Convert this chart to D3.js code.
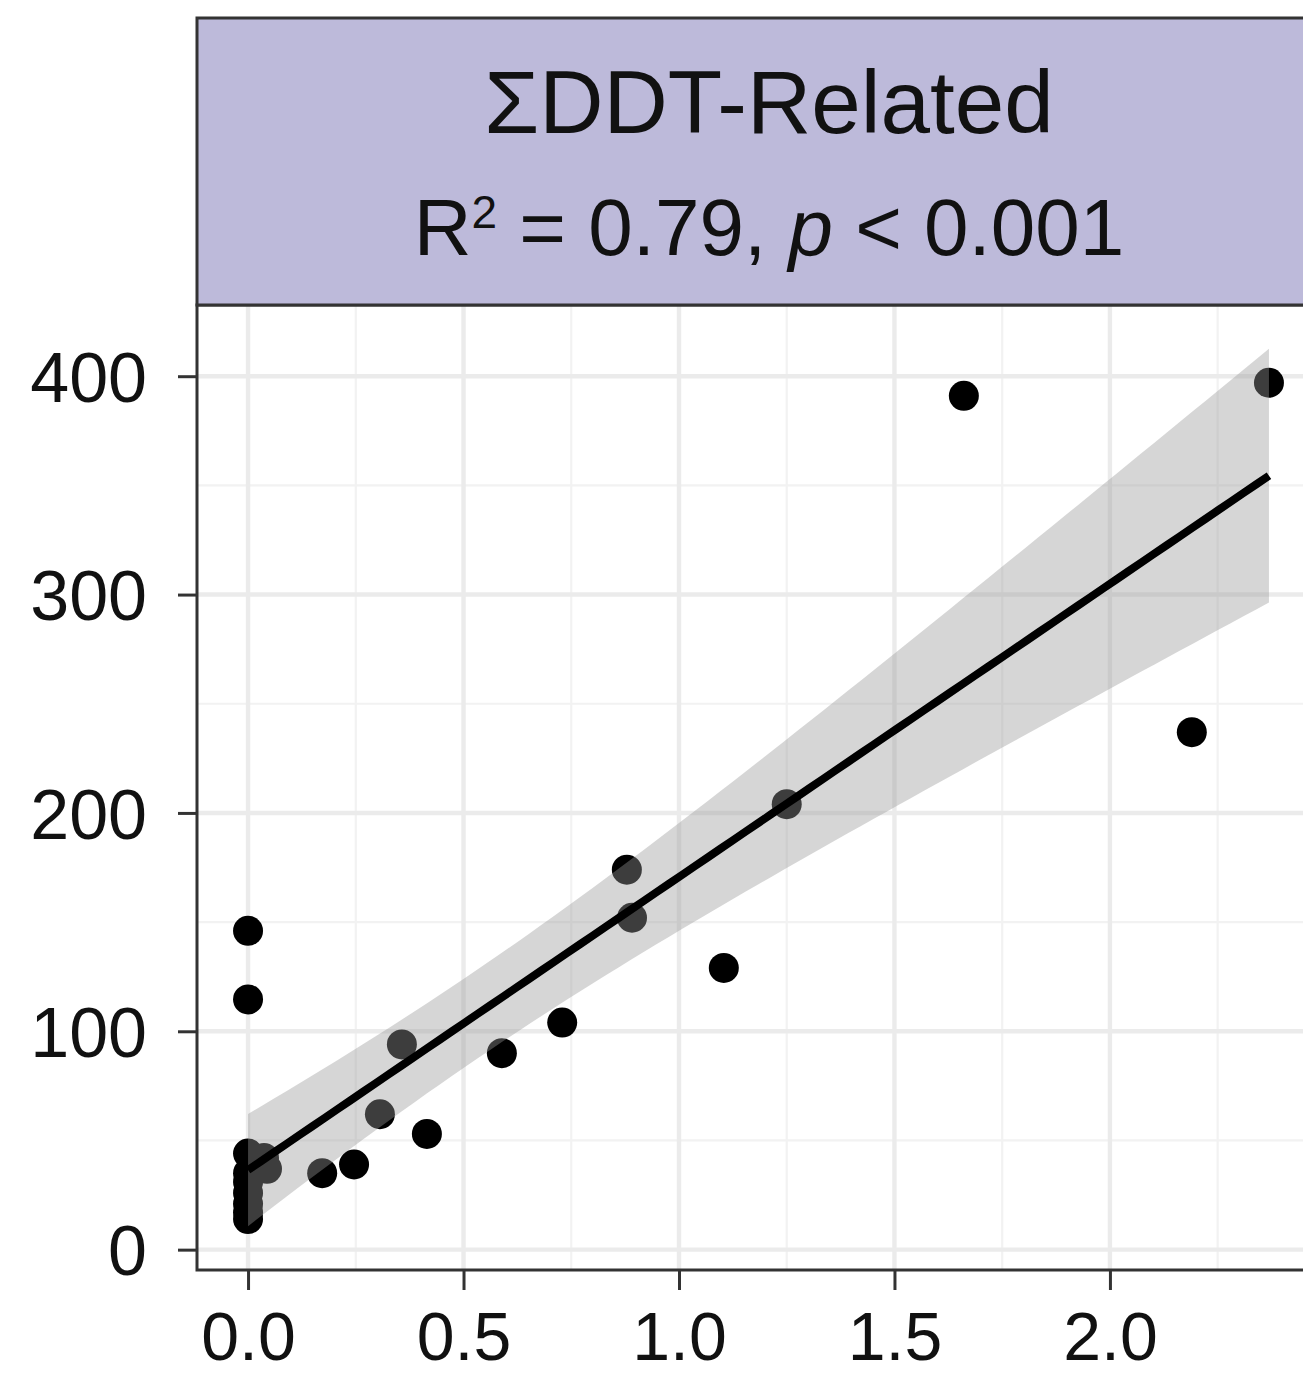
<!DOCTYPE html>
<html>
<head>
<meta charset="utf-8">
<script src="https://cdn.jsdelivr.net/npm/d3@7"></script>
<style>
  html, body { margin: 0; padding: 0; background: #fff; }
  svg { display: block; }
  text { font-family: "Liberation Sans", Arial, sans-serif; }
</style>
</head>
<body>
<svg id="chart" width="1303" height="1379"></svg>
<script>
// ---- data ----
const xValues = [0, 0, 0, 0.037, 0.044, 0, 0, 0, 0, 0, 0,
                 0.172, 0.246, 0.306, 0.357, 0.415, 0.589, 0.729,
                 0.879, 0.891, 1.104, 1.25, 1.661, 2.19, 2.369];
const yValues = [146, 114.6, 44, 42, 37, 35, 31, 26, 21, 17, 14,
                 35, 39, 62, 94, 53, 90, 104,
                 174, 152, 129, 204, 391, 237, 397];
const xTicks = [0.0, 0.5, 1.0, 1.5, 2.0];
const xTickLabels = ["0.0", "0.5", "1.0", "1.5", "2.0"];
const yTicks = [0, 100, 200, 300, 400];
const yTickLabels = ["0", "100", "200", "300", "400"];
const stripTitle = "ΣDDT-Related";
const statR2 = "0.79";
const statP = "0.001";

// ---- linear fit + 95% CI (as geom_smooth(method = "lm")) ----
const n = xValues.length;
const mx = d3.mean(xValues), my = d3.mean(yValues);
let sxx = 0, sxy = 0;
for (let i = 0; i < n; i++) { sxx += (xValues[i]-mx)**2; sxy += (xValues[i]-mx)*(yValues[i]-my); }
const slope = sxy / sxx, intercept = my - slope * mx;
let sse = 0;
for (let i = 0; i < n; i++) sse += (yValues[i] - (intercept + slope*xValues[i]))**2;
const s = Math.sqrt(sse / (n - 2));
const tcrit = 2.0687; // t(0.975, df = 23)
const xMin = d3.min(xValues), xMax = d3.max(xValues);
const fitPts = d3.range(0, 81).map(i => {
  const x = xMin + (xMax - xMin) * i / 80;
  const yh = intercept + slope * x;
  const se = s * Math.sqrt(1/n + (x-mx)**2 / sxx);
  return {x, y: yh, lo: yh - tcrit*se, hi: yh + tcrit*se};
});

// ---- layout ----
const svg = d3.select("#chart");
const panel = {left: 197, right: 1320, top: 305, bottom: 1270};
const strip = {top: 18, bottom: 305};

const xr = xMax - xMin;
const x = d3.scaleLinear().domain([xMin - 0.05*xr, xMax + 0.05*xr]).range([panel.left, panel.right]);
const yLo = Math.min(d3.min(yValues), d3.min(fitPts, d => d.lo));
const yHi = Math.max(d3.max(yValues), d3.max(fitPts, d => d.hi));
const yr = yHi - yLo;
const y = d3.scaleLinear().domain([yLo - 0.05*yr, yHi + 0.05*yr]).range([panel.bottom, panel.top]);

// panel background
svg.append("rect").attr("x", panel.left).attr("y", panel.top)
  .attr("width", panel.right - panel.left).attr("height", panel.bottom - panel.top)
  .attr("fill", "#fff");

// grid: minor then major
const xMinor = d3.range(-0.25, 2.75, 0.5);
const yMinor = d3.range(-50, 500, 100);
const gGrid = svg.append("g");
gGrid.selectAll("line.xm").data(xMinor.filter(v => x(v) > panel.left && x(v) < panel.right)).join("line")
  .attr("x1", d => x(d)).attr("x2", d => x(d)).attr("y1", panel.top).attr("y2", panel.bottom)
  .attr("stroke", "#f2f2f2").attr("stroke-width", 2.2);
gGrid.selectAll("line.ym").data(yMinor.filter(v => y(v) > panel.top && y(v) < panel.bottom)).join("line")
  .attr("y1", d => y(d)).attr("y2", d => y(d)).attr("x1", panel.left).attr("x2", panel.right)
  .attr("stroke", "#f2f2f2").attr("stroke-width", 2.2);
gGrid.selectAll("line.xM").data(xTicks).join("line")
  .attr("x1", d => x(d)).attr("x2", d => x(d)).attr("y1", panel.top).attr("y2", panel.bottom)
  .attr("stroke", "#ebebeb").attr("stroke-width", 4.4);
gGrid.selectAll("line.yM").data(yTicks).join("line")
  .attr("y1", d => y(d)).attr("y2", d => y(d)).attr("x1", panel.left).attr("x2", panel.right)
  .attr("stroke", "#ebebeb").attr("stroke-width", 4.4);

// points
svg.append("g").selectAll("circle").data(xValues.map((v, i) => ({x: v, y: yValues[i]}))).join("circle")
  .attr("cx", d => x(d.x)).attr("cy", d => y(d.y)).attr("r", 15).attr("fill", "#000");

// ribbon
svg.append("path").datum(fitPts)
  .attr("d", d3.area().x(d => x(d.x)).y0(d => y(d.lo)).y1(d => y(d.hi)))
  .attr("fill", "#999999").attr("fill-opacity", 0.4);
// fit line
svg.append("path").datum(fitPts)
  .attr("d", d3.line().x(d => x(d.x)).y(d => y(d.y)))
  .attr("fill", "none").attr("stroke", "#000").attr("stroke-width", 8);

// panel border
svg.append("rect").attr("x", panel.left).attr("y", panel.top)
  .attr("width", panel.right - panel.left).attr("height", panel.bottom - panel.top)
  .attr("fill", "none").attr("stroke", "#333").attr("stroke-width", 3);

// strip
svg.append("rect").attr("x", panel.left).attr("y", strip.top)
  .attr("width", panel.right - panel.left).attr("height", strip.bottom - strip.top)
  .attr("fill", "#bdbada").attr("stroke", "#333").attr("stroke-width", 3);
const cx = 769;
svg.append("text").attr("x", cx).attr("y", 133).attr("text-anchor", "middle")
  .attr("font-size", 89).attr("fill", "#111").text(stripTitle);
const t2 = svg.append("text").attr("x", cx).attr("y", 255).attr("text-anchor", "middle")
  .attr("font-size", 80).attr("fill", "#111");
t2.append("tspan").text("R");
t2.append("tspan").attr("font-size", 46).attr("dy", -27).text("2");
t2.append("tspan").attr("dy", 27).text(" = " + statR2 + ", ");
t2.append("tspan").attr("font-style", "italic").text("p");
t2.append("tspan").text(" < " + statP);

// axes
const xAxis = d3.axisBottom(x).tickValues(xTicks).tickFormat((d, i) => xTickLabels[i]).tickSize(20).tickPadding(22);
const gx = svg.append("g").attr("transform", `translate(0,${panel.bottom})`).call(xAxis);
gx.select(".domain").remove();
gx.selectAll(".tick line").attr("stroke", "#333").attr("stroke-width", 3);
gx.selectAll(".tick text").attr("font-size", 68).attr("fill", "#111")
  .attr("font-family", "'Liberation Sans', Arial, sans-serif").attr("dy", "0.71em");

const yAxis = d3.axisLeft(y).tickValues(yTicks).tickFormat((d, i) => yTickLabels[i]).tickSize(19).tickPadding(31);
const gy = svg.append("g").attr("transform", `translate(${panel.left},0)`).call(yAxis);
gy.select(".domain").remove();
gy.selectAll(".tick line").attr("stroke", "#333").attr("stroke-width", 3);
gy.selectAll(".tick text").attr("font-size", 70).attr("fill", "#111")
  .attr("font-family", "'Liberation Sans', Arial, sans-serif").attr("dy", "0.36em");
</script>
</body>
</html>
